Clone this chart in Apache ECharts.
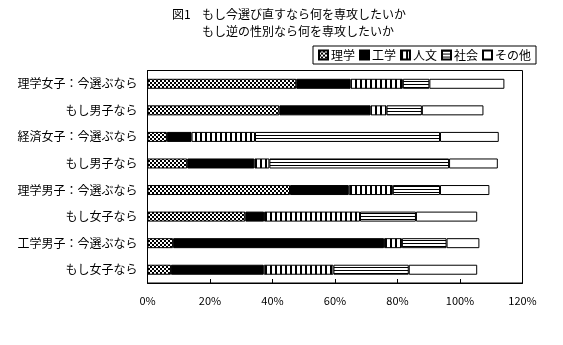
<!DOCTYPE html>
<html>
<head>
<meta charset="utf-8">
<script src="https://cdn.jsdelivr.net/npm/echarts@6/dist/echarts.min.js"></script>
<style>
  html, body { margin: 0; padding: 0; background: #fff; }
  #chart { width: 563px; height: 345px; }
</style>
</head>
<body>
<div id="chart"></div>
<script>
// Survey groups, top to bottom
const categories = [
  '理学女子：今選ぶなら',
  'もし男子なら',
  '経済女子：今選ぶなら',
  'もし男子なら ',
  '理学男子：今選ぶなら',
  'もし女子なら',
  '工学男子：今選ぶなら',
  'もし女子なら '
];

// Share of answers (%) per field
const science    = [47.6, 42.2,  6.2, 12.7, 45.6, 31.3,  8.2,  7.5];
const engineering= [17.4, 29.2,  7.9, 21.5, 18.8,  6.0, 67.5, 29.7];
const humanities = [16.7,  5.1, 20.3,  4.8, 14.1, 30.7,  5.7, 22.3];
const social     = [ 8.5, 11.3, 59.2, 57.5, 15.1, 17.9, 14.3, 24.1];
const other      = [24.0, 19.7, 18.8, 15.6, 15.8, 19.6, 10.5, 21.9];

const seriesNames = ['理学', '工学', '人文', '社会', 'その他'];
const xTicks = [0, 20, 40, 60, 80, 100, 120];

// Monochrome fill patterns
function makePattern(w, h, draw) {
  const c = document.createElement('canvas');
  c.width = w; c.height = h;
  const g = c.getContext('2d');
  g.fillStyle = '#fff';
  g.fillRect(0, 0, w, h);
  g.fillStyle = '#000';
  draw(g);
  return { image: c, repeat: 'repeat' };
}
const checker = makePattern(4, 4, g => { g.fillRect(0, 0, 2, 2); g.fillRect(2, 2, 2, 2); });
const vlines  = makePattern(5, 4, g => { g.fillRect(0, 0, 2, 4); });
const hlines  = makePattern(4, 3, g => { g.fillRect(0, 0, 4, 1); });

const fills = [checker, '#000', vlines, hlines, '#fff'];
const values = [science, engineering, humanities, social, other];

const font = '"Noto Sans CJK JP", sans-serif';

const chart = echarts.init(document.getElementById('chart'), null, { renderer: 'canvas' });
chart.setOption({
  backgroundColor: '#fff',
  animation: false,
  textStyle: { fontFamily: font, color: '#000' },
  graphic: [
    { type: 'text', left: 172, top: 8, style: { text: '図1', font: '12px ' + font, fill: '#000' } },
    { type: 'text', left: 202, top: 8, style: { text: 'もし今選び直すなら何を専攻したいか', font: '12px ' + font, fill: '#000' } },
    { type: 'text', left: 202, top: 25, style: { text: 'もし逆の性別なら何を専攻したいか', font: '12px ' + font, fill: '#000' } }
  ],
  legend: {
    left: 313,
    top: 46,
    orient: 'horizontal',
    itemWidth: 9,
    itemHeight: 9,
    itemGap: 4,
    padding: [3, 5],
    borderColor: '#000',
    borderWidth: 1,
    borderRadius: 0,
    icon: 'rect',
    textStyle: { fontFamily: font, fontSize: 12, color: '#000', padding: [0, 0, 0, -2] },
    data: seriesNames
  },
  grid: {
    left: 147.5,
    right: 40.5,
    top: 70.5,
    bottom: 62,
    show: true,
    borderColor: '#000',
    borderWidth: 1,
    backgroundColor: 'transparent'
  },
  xAxis: {
    type: 'value',
    min: xTicks[0],
    max: xTicks[xTicks.length - 1],
    interval: 20,
    axisLine: { show: true, lineStyle: { color: '#000', width: 1 } },
    axisTick: { show: true, inside: true, length: 4, lineStyle: { color: '#000' } },
    splitLine: { show: false },
    axisLabel: {
      formatter: '{value}%',
      fontFamily: font,
      fontSize: 11,
      color: '#000',
      margin: 12
    }
  },
  yAxis: {
    type: 'category',
    inverse: true,
    data: categories,
    axisLine: { show: true, lineStyle: { color: '#000', width: 1 } },
    axisTick: { show: false },
    axisLabel: {
      fontFamily: font,
      fontSize: 12,
      color: '#000',
      margin: 10,
      formatter: v => v.trim()
    }
  },
  series: seriesNames.map((name, i) => ({
    name: name,
    type: 'bar',
    stack: 'total',
    barWidth: 10,
    data: values[i],
    itemStyle: {
      color: fills[i],
      borderColor: '#000',
      borderWidth: 1
    },
    emphasis: { disabled: true }
  }))
});
</script>
</body>
</html>
